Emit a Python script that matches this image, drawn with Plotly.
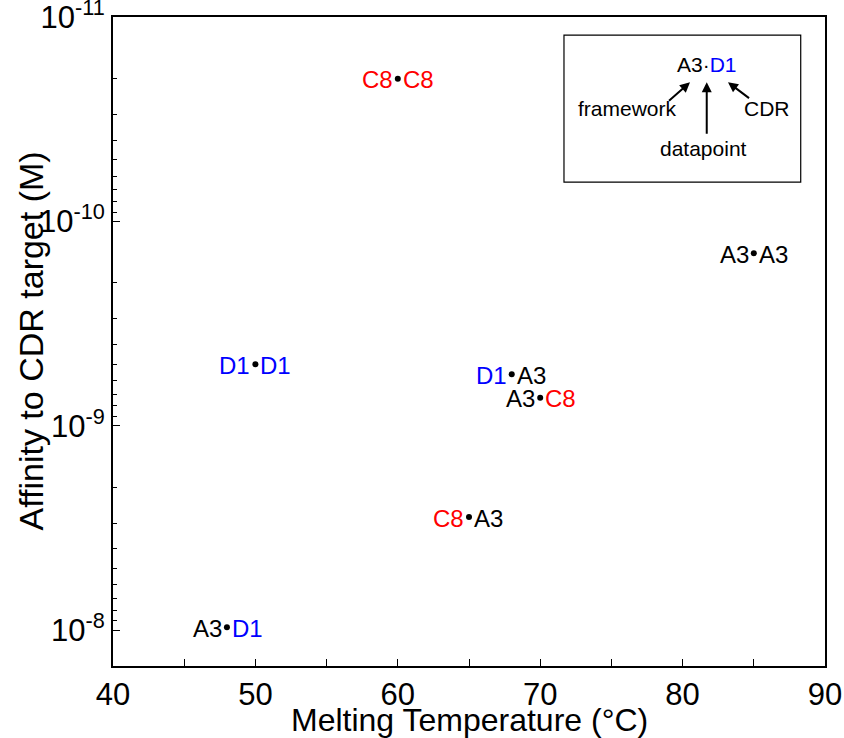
import numpy as np
import plotly.graph_objects as go

# Data
tm = [60, 85, 50, 68, 70, 65, 48]                       # melting temperature (°C)
affinity = [2.0e-11, 1.43e-10, 5.0e-10, 5.6e-10, 7.3e-10, 2.8e-9, 9.7e-9]  # M
framework = ["C8", "A3", "D1", "D1", "A3", "C8", "A3"]
cdr = ["C8", "A3", "D1", "A3", "C8", "A3", "D1"]

colors = {"A3": "#000000", "C8": "#ff0000", "D1": "#0000ff"}

ytick_vals = [1e-11, 1e-10, 1e-9, 1e-8]
ytick_text = ["10<sup>-11</sup>", "10<sup>-10</sup>", "10<sup>-9</sup>", "10<sup>-8</sup>"]
minor_vals = [k * 10.0 ** e for e in range(-11, -7) for k in range(2, 10)]

x_title = "Melting Temperature (°C)"
y_title = "Affinity to CDR target (M)"

FONT = "Liberation Sans, Arial, sans-serif"

fig = go.Figure()
fig.add_trace(go.Scatter(
    x=tm, y=affinity, mode="markers",
    marker=dict(color="black", size=6),
    showlegend=False, hoverinfo="skip"))

annotations = []
for xv, yv, fw, cd in zip(tm, affinity, framework, cdr):
    annotations.append(dict(x=xv, y=np.log10(yv), xref="x", yref="y", text=fw,
                            showarrow=False, xanchor="right", yanchor="middle",
                            xshift=-3, yshift=-1,
                            font=dict(family=FONT, size=24, color=colors[fw])))
    annotations.append(dict(x=xv, y=np.log10(yv), xref="x", yref="y", text=cd,
                            showarrow=False, xanchor="left", yanchor="middle",
                            xshift=3, yshift=-1,
                            font=dict(family=FONT, size=24, color=colors[cd])))

# Axis titles
annotations += [
    dict(x=0.5, y=0, xref="paper", yref="paper", text=x_title, showarrow=False,
         xanchor="center", yanchor="middle", yshift=-54,
         font=dict(family=FONT, size=32, color="black")),
    dict(x=0, y=0.5, xref="paper", yref="paper", text=y_title, showarrow=False,
         xanchor="center", yanchor="middle", xshift=-83, textangle=-90,
         font=dict(family=FONT, size=34, color="black")),
]

# Inset legend explaining label format
inset_font = dict(family=FONT, size=21, color="black")
annotations += [
    dict(x=0.8343, y=0.927, xref="paper", yref="paper", showarrow=False,
         text="A3·<span style='color:#0000ff'>D1</span>", font=inset_font,
         xanchor="center", yanchor="middle"),
    dict(x=0.7233, y=0.8591, xref="paper", yref="paper", showarrow=False,
         text="framework", font=inset_font, xanchor="center", yanchor="middle"),
    dict(x=0.9185, y=0.8591, xref="paper", yref="paper", showarrow=False,
         text="CDR", font=inset_font, xanchor="center", yanchor="middle"),
    dict(x=0.8287, y=0.7975, xref="paper", yref="paper", showarrow=False,
         text="datapoint", font=inset_font, xanchor="center", yanchor="middle"),
    dict(x=0.8104, y=0.8993, xref="paper", yref="paper", text=" ", showarrow=True,
         ax=-24, ay=21, arrowhead=2, arrowsize=1, arrowwidth=2, arrowcolor="black"),
    dict(x=0.8339, y=0.8993, xref="paper", yref="paper", text=" ", showarrow=True,
         ax=0, ay=60, arrowhead=2, arrowsize=1, arrowwidth=2, arrowcolor="black"),
    dict(x=0.8638, y=0.8993, xref="paper", yref="paper", text=" ", showarrow=True,
         ax=24, ay=18, arrowhead=2, arrowsize=1, arrowwidth=2, arrowcolor="black"),
]

fig.update_layout(
    width=844, height=738,
    margin=dict(l=113, r=19, t=17, b=72),
    paper_bgcolor="white", plot_bgcolor="white",
    font=dict(family=FONT, color="black"),
    annotations=annotations,
    shapes=[dict(type="rect", xref="paper", yref="paper",
                 x0=0.6334, x1=0.9659, y0=0.7457, y1=0.972,
                 line=dict(color="black", width=1.2))],
)

fig.update_xaxes(
    range=[40, 90], dtick=10, tick0=40,
    ticks="inside", ticklen=7, tickwidth=1, tickcolor="black",
    minor=dict(dtick=5, ticks="inside", ticklen=7, tickcolor="black", showgrid=False),
    showline=True, linewidth=2, linecolor="black", mirror=True,
    showgrid=False, zeroline=False, automargin=False,
    ticklabeloverflow="allow",
    tickfont=dict(family=FONT, size=31),
)

fig.update_yaxes(
    type="log", range=[np.log10(1.5e-8), -11.0008],
    tickvals=ytick_vals, ticktext=ytick_text,
    ticks="inside", ticklen=7, tickwidth=1, tickcolor="black",
    minor=dict(tickvals=minor_vals, ticks="inside", ticklen=4, tickcolor="black", showgrid=False),
    showline=True, linewidth=2, linecolor="black", mirror=True,
    showgrid=False, zeroline=False, automargin=False,
    ticklabeloverflow="allow",
    tickfont=dict(family=FONT, size=31),
)

fig.write_html("out.html", post_script="document.body.style.margin='0';",
               config={"displayModeBar": False})
